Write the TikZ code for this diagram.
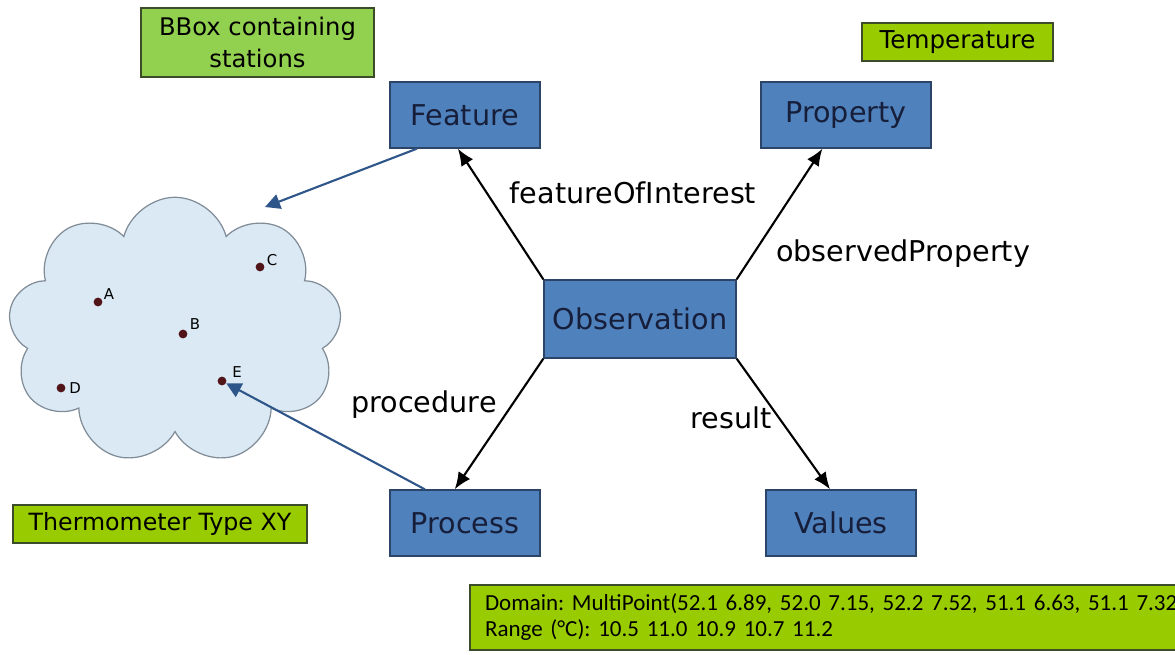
\documentclass[tikz,border=0pt]{standalone}
\usepackage{fontspec}
\setmainfont{DejaVu Sans}
\newfontfamily\calib{Carlito}
\usepackage{tikz}
\usetikzlibrary{arrows.meta,shapes.symbols}
\usepackage{xcolor}
\definecolor{BoxBlue}{RGB}{79,129,189}
\definecolor{BoxEdge}{RGB}{44,68,104}
\definecolor{NavyText}{RGB}{22,30,58}
\definecolor{LeafGreen}{RGB}{146,208,80}
\definecolor{LimeGreen}{RGB}{153,204,0}
\definecolor{GreenEdge}{RGB}{60,76,40}
\definecolor{CloudBlue}{RGB}{218,233,243}
\definecolor{CloudEdge}{RGB}{128,140,152}
\definecolor{LinkBlue}{RGB}{47,86,138}
\definecolor{DotRed}{RGB}{80,20,25}
\frenchspacing

\tikzset{
  concept/.style={draw=BoxEdge, fill=BoxBlue, line width=0.8pt, inner sep=0pt,
    minimum width=3cm, minimum height=1.32cm, text=NavyText, font=\fontsize{16.3}{18}\selectfont},
  note/.style={draw=GreenEdge, fill=LimeGreen, line width=0.8pt, inner sep=0pt,
    minimum height=0.76cm, font=\fontsize{13.5}{16}\selectfont},
  relation/.style={-{Latex[length=3.4mm,width=2.8mm]}, line width=1.2pt, black},
  pointer/.style={-{Triangle[length=3mm,width=3mm]}, line width=1.2pt, LinkBlue},
  lbl/.style={font=\fontsize{16.3}{18}\selectfont, inner sep=0pt},
  station/.style={circle, fill=DotRed, inner sep=0pt, minimum size=5pt},
  stationname/.style={font=\fontsize{8.5}{9}\selectfont, inner sep=0pt},
}

\begin{document}
\begin{tikzpicture}[x=0.02cm, y=-0.02cm]
\clip (0,0) rectangle (1175,655);

% the bounding box of the stations
\node[cloud, cloud puffs=9, cloud puff arc=150, aspect=1.3, minimum width=6.68cm, minimum height=5.35cm,
  fill=CloudBlue, draw=CloudEdge, line width=0.7pt] (area) at (175,331) {};
\node[station] (dA) at (98,302) {};
\node[station] (dB) at (183,334) {};
\node[station] (dC) at (260,267) {};
\node[station] (dD) at (61,388) {};
\node[station] (dE) at (222,381) {};
\node[stationname] (nA) at (109,294) {A};
\node[stationname] (nB) at (195,324) {B};
\node[stationname] (nC) at (272,260) {C};
\node[stationname] (nD) at (75,388) {D};
\node[stationname] (nE) at (237,372) {E};

% observation model
\node[concept, minimum width=3.84cm, minimum height=1.56cm] (obs) at (640,319) {Observation};
\node[concept] (feat) at (465,115) {Feature};
\node[concept, minimum width=3.4cm] (prop) at (846,115) {Property};
\node[concept] (proc) at (465,523) {Process};
\node[concept] (val) at (841,523) {Values};

\draw[relation] (obs.north west) -- (feat.-102);
\draw[relation] (obs.north east) -- (prop.-125);
\draw[relation] (obs.south west) -- (proc.107);
\draw[relation] (obs.south east) -- (val.108);

\node[lbl] (lfoi) at (633,193) {featureOfInterest};
\node[lbl] (lobs) at (903,254) {observedProperty};
\node[lbl] (lproc) at (424,405) {procedure};
\node[lbl] (lres) at (731,418) {result};

% example values
\node[note, fill=LeafGreen, minimum width=4.66cm, minimum height=1.38cm, align=center,
  font=\fontsize{13.8}{18}\selectfont] (bbox) at (257.5,42.5) {BBox containing\\stations};
\node[note, minimum width=3.82cm, font=\fontsize{14}{16}\selectfont] (temp) at (957.5,42) {Temperature};
\node[note, minimum width=5.88cm] (thermo) at (160,524) {Thermometer Type XY};
\node[note, minimum width=14.6cm, minimum height=1.3cm, text width=14cm, align=left,
  font=\calib\fontsize{13.1}{14.8}\selectfont] (dom) at (835,617.5)
  {Domain: MultiPoint(52.1 6.89, 52.0 7.15, 52.2 7.52, 51.1 6.63, 51.1 7.32\\
   Range (°C): 10.5 11.0 10.9 10.7 11.2};

\coordinate (areatop) at (265,207);
\draw[pointer] (feat.-145) -- (areatop);
\draw[pointer] (proc.140) -- (dE);
\end{tikzpicture}
\end{document}
